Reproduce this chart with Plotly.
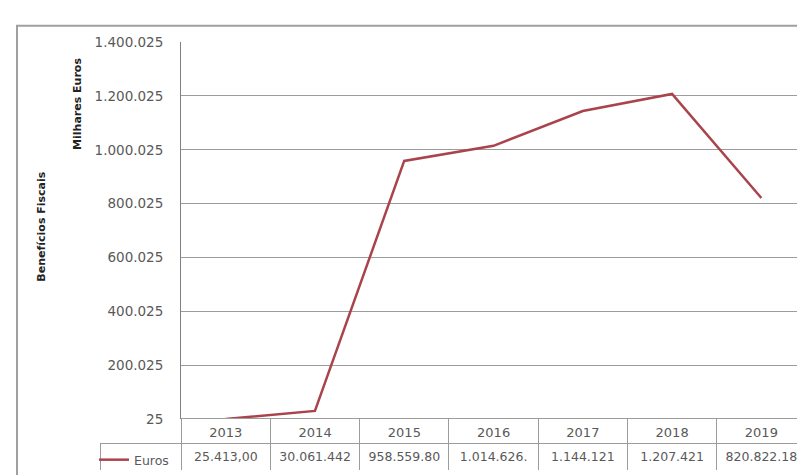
import plotly.graph_objects as go

# ---- data ----
years = ["2013", "2014", "2015", "2016", "2017", "2018", "2019"]
euros = [25.413, 30061.442, 958559.80, 1014626, 1144121, 1207421, 820822.18]
table_labels = ["25.413,00", "30.061.442", "958.559.80", "1.014.626.", "1.144.121", "1.207.421", "820.822.18"]
series_name = "Euros"
y_ticks = [25, 200025, 400025, 600025, 800025, 1000025, 1200025, 1400025]
y_title_inner = "Milhares Euros"
y_title_outer = "Benefícios Fiscais"

W, H = 805, 475
LINE_COLOR = "#A9434C"
GRID = "#9c9c9c"
TXT = "#595959"
FONT = "DejaVu Sans"
CLEAR = "rgba(0,0,0,0)"

def px_x(p):
    return p / W

def px_y(p):
    return 1 - p / H

fig = go.Figure()

fig.add_trace(go.Scatter(
    x=years, y=euros, mode="lines", name=series_name,
    line=dict(color=LINE_COLOR, width=2.5),
    showlegend=True,
))

# data table under the plot
header_vals = [""] + years
cell_vals = [[""]] + [[v] for v in table_labels]
fig.add_trace(go.Table(
    domain=dict(x=[px_x(92), px_x(798)], y=[px_y(470), px_y(417)]),
    columnwidth=[81] + [89] * len(years),
    header=dict(
        values=header_vals,
        height=25,
        align="center",
        fill=dict(color=[CLEAR] + ["white"] * len(years)),
        line=dict(color=[CLEAR] + [GRID] * len(years), width=1),
        font=dict(family=FONT, size=13, color=TXT),
    ),
    cells=dict(
        values=cell_vals,
        height=28,
        align="center",
        fill=dict(color="white"),
        line=dict(color=GRID, width=1),
        font=dict(family=FONT, size=12.5, color=TXT),
    ),
))

fig.update_layout(
    width=W, height=H,
    margin=dict(l=0, r=0, t=0, b=0),
    paper_bgcolor="white", plot_bgcolor="white",
    separators=",.",
    font=dict(family=FONT, size=13, color=TXT),
    showlegend=True,
    legend=dict(
        x=px_x(86), y=px_y(444), xanchor="left", yanchor="top",
        bgcolor=CLEAR, borderwidth=0,
        font=dict(family=FONT, size=12.5, color=TXT),
        itemwidth=30,
    ),
    xaxis=dict(
        domain=[px_x(173), px_x(798)],
        type="category", range=[-0.5, len(years) - 0.5],
        showticklabels=False, showgrid=False, zeroline=False,
        showline=False, ticks="",
    ),
    yaxis=dict(
        domain=[px_y(417), px_y(27)],
        range=[y_ticks[0], y_ticks[-1]],
        tickvals=y_ticks, tickformat=",d",
        showgrid=True, gridcolor=GRID, gridwidth=1,
        showline=True, linecolor="#7f7f7f", linewidth=1,
        zeroline=False, ticks="",
        ticklabelstandoff=14,
        tickfont=dict(family=FONT, size=13.5, color=TXT),
    ),
    annotations=[
        dict(text=f"<b>{y_title_inner}</b>", textangle=-90, x=px_x(70), y=px_y(91),
             xref="paper", yref="paper", xanchor="center", yanchor="middle",
             showarrow=False,
             font=dict(family=FONT, size=11, color="#222222")),
        dict(text=f"<b>{y_title_outer}</b>", textangle=-90, x=px_x(34), y=px_y(218),
             xref="paper", yref="paper", xanchor="center", yanchor="middle",
             showarrow=False,
             font=dict(family=FONT, size=11, color="#222222")),
    ],
    shapes=[
        dict(type="rect", xref="paper", yref="paper",
             x0=px_x(9), x1=1.05, y0=-0.05, y1=px_y(10),
             line=dict(color="#a0a0a0", width=2), layer="below"),
    ],
)

fig.write_html("out.html")
